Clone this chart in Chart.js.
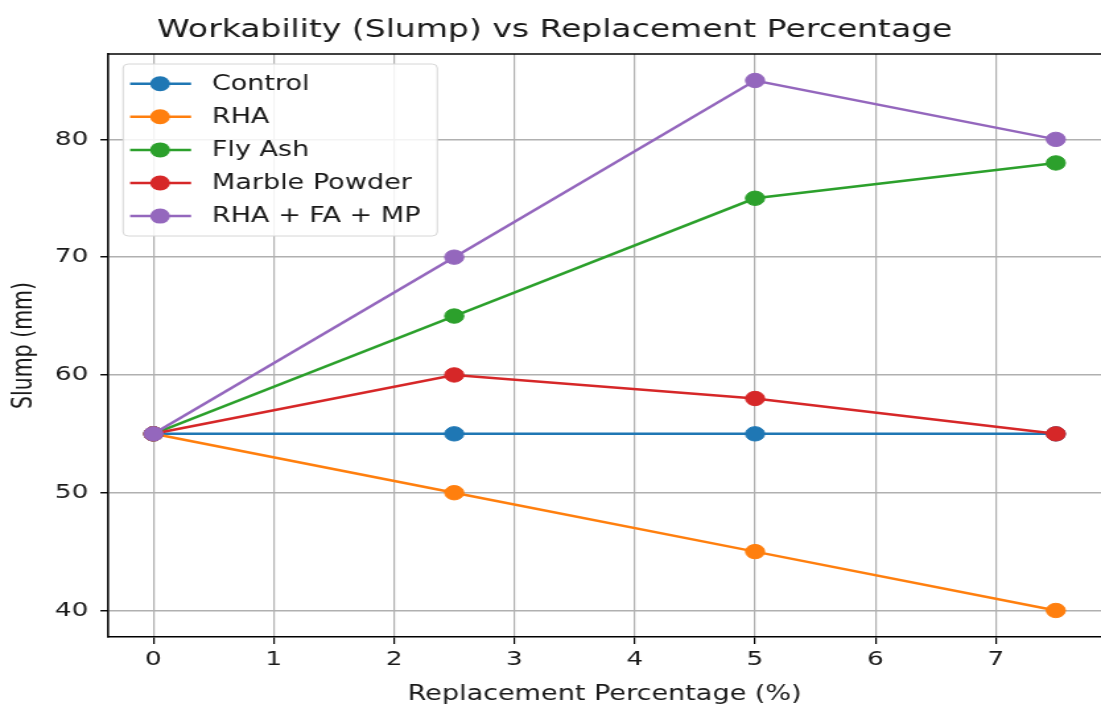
<!DOCTYPE html>
<html>
<head>
<meta charset="utf-8">
<script src="https://cdn.jsdelivr.net/npm/chart.js@4.4.1/dist/chart.umd.min.js"></script>
<style>
  html, body { margin: 0; padding: 0; background: #fff; overflow: hidden; }
  /* the reference picture is stretched sideways, so the chart is too */
  #wrap { width: 834px; height: 705px; transform: scaleX(1.3201); transform-origin: 0 0; }
</style>
</head>
<body>
<div id="wrap"><canvas id="graficoSlump"></canvas></div>
<script>
const percentages = [0, 2.5, 5, 7.5];
const control = [55, 55, 55, 55];
const rha = [55, 50, 45, 40];
const flyAsh = [55, 65, 75, 78];
const marblePowder = [55, 60, 58, 55];
const blend = [55, 70, 85, 80];
const seriesNames = ['Control', 'RHA', 'Fly Ash', 'Marble Powder', 'RHA + FA + MP'];
const xTicks = [0, 1, 2, 3, 4, 5, 6, 7];
const yTicks = [40, 50, 60, 70, 80];

const colors = ['#1f77b4', '#ff7f0e', '#2ca02c', '#d62728', '#9467bd'];
const fontFamily = "'DejaVu Sans', sans-serif";

const ctx = document.getElementById('graficoSlump').getContext('2d');

// legend box inside the plot, matplotlib style
const innerLegend = {
    id: 'innerLegend',
    afterDatasetsDraw(chart) {
        const { ctx, chartArea } = chart;
        const x = chartArea.left + 11.2;
        const y = chartArea.top + 10;
        const w = 238, h = 172;
        ctx.save();
        ctx.beginPath();
        ctx.roundRect(x, y, w, h, 4);
        ctx.fillStyle = 'rgba(255,255,255,0.85)';
        ctx.fill();
        ctx.strokeStyle = '#d6d6d6';
        ctx.lineWidth = 1;
        ctx.stroke();

        ctx.font = '20.5px ' + fontFamily;
        ctx.textBaseline = 'middle';
        ctx.textAlign = 'left';
        chart.data.datasets.forEach((ds, i) => {
            const cy = y + 19.7 + i * 33.1;
            ctx.strokeStyle = ds.borderColor;
            ctx.lineWidth = 2.5;
            ctx.beginPath();
            ctx.moveTo(x + 5.3, cy);
            ctx.lineTo(x + 51.5, cy);
            ctx.stroke();
            ctx.fillStyle = ds.backgroundColor;
            ctx.beginPath();
            ctx.arc(x + 28, cy, 7.5, 0, Math.PI * 2);
            ctx.fill();
            ctx.fillStyle = '#1a1a1a';
            ctx.fillText(ds.label, x + 67.2, cy + 1);
        });
        ctx.restore();
    }
};

// top spine of the axes frame
const topSpine = {
    id: 'topSpine',
    afterDraw(chart) {
        const { ctx, chartArea } = chart;
        ctx.save();
        ctx.strokeStyle = '#000';
        ctx.lineWidth = 1.6;
        ctx.beginPath();
        ctx.moveTo(chartArea.left, chartArea.top);
        ctx.lineTo(chartArea.right, chartArea.top);
        ctx.stroke();
        ctx.restore();
    }
};

const allSeries = [control, rha, flyAsh, marblePowder, blend];

const datasets = allSeries.map((values, i) => ({
    label: seriesNames[i],
    data: values.map((v, j) => ({ x: percentages[j], y: v })),
    borderColor: colors[i],
    backgroundColor: colors[i],
    pointBackgroundColor: colors[i],
    pointBorderColor: colors[i],
    borderWidth: 2.5,
    pointRadius: 7.2,
    pointBorderWidth: 1,
    tension: 0,
    order: allSeries.length - 1 - i
}));

new Chart(ctx, {
    type: 'line',
    data: { datasets },
    plugins: [innerLegend, topSpine],
    options: {
        responsive: true,
        maintainAspectRatio: false,
        animation: false,
        layout: { autoPadding: false, padding: { left: 6.6, right: 0, top: 0, bottom: 0 } },
        plugins: {
            legend: { display: false },
            tooltip: { enabled: false },
            title: {
                display: true,
                text: 'Workability (Slump) vs Replacement Percentage',
                color: '#1a1a1a',
                font: { family: fontFamily, size: 25, weight: 'normal' },
                padding: { top: 15.5, bottom: 8.5 }
            }
        },
        scales: {
            x: {
                type: 'linear',
                min: -0.375,
                max: 7.875,
                afterBuildTicks: axis => { axis.ticks = xTicks.map(v => ({ value: v })); },
                ticks: {
                    color: '#1a1a1a',
                    font: { family: fontFamily, size: 20 },
                    padding: 4,
                    maxRotation: 0,
                    autoSkip: false,
                    callback: v => v
                },
                grid: {
                    color: '#b0b0b0',
                    lineWidth: 1.2,
                    tickLength: 7,
                    tickColor: '#000',
                    tickWidth: 1.2
                },
                border: { display: true, color: '#000', width: 1.6 },
                title: {
                    display: true,
                    text: 'Replacement Percentage (%)',
                    color: '#1a1a1a',
                    font: { family: fontFamily, size: 20.5, lineHeight: 1.0 },
                    padding: { top: 8.5, bottom: 0 }
                }
            },
            y: {
                type: 'linear',
                min: 37.75,
                max: 87.25,
                afterBuildTicks: axis => { axis.ticks = yTicks.map(v => ({ value: v })); },
                ticks: {
                    color: '#1a1a1a',
                    font: { family: fontFamily, size: 20 },
                    padding: 9.1,
                    callback: v => v
                },
                grid: {
                    color: '#b0b0b0',
                    lineWidth: 1.5,
                    tickLength: 6,
                    tickColor: '#000',
                    tickWidth: 1.4
                },
                border: { display: true, color: '#000', width: 1.6 },
                title: {
                    display: true,
                    text: 'Slump (mm)',
                    color: '#1a1a1a',
                    font: { family: fontFamily, size: 20.5 },
                    padding: { top: 0, bottom: 1.2 }
                }
            }
        }
    }
});
</script>
</body>
</html>
